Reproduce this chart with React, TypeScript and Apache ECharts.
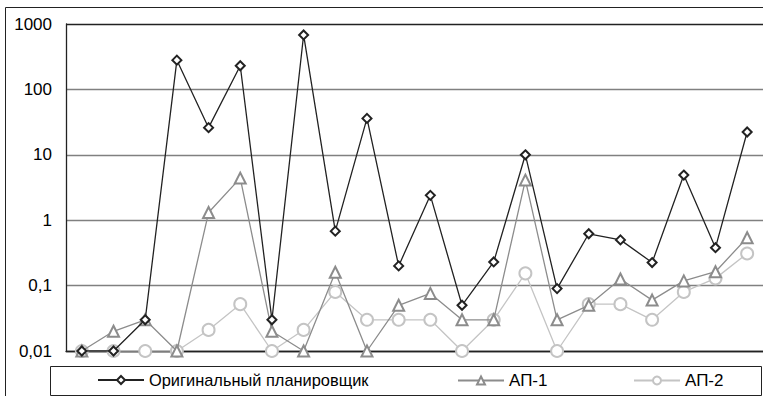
import React, { useEffect, useRef } from "react";
import * as echarts from "echarts";

const categories = ["1","2","3","4","5","6","7","8","9","10","11","12","13","14","15","16","17","18","19","20","21","22"];
const original = [0.01, 0.01, 0.03, 280, 26, 230, 0.03, 680, 0.68, 36, 0.2, 2.4, 0.05, 0.23, 10, 0.09, 0.62, 0.5, 0.225, 4.9, 0.38, 22.3];
const ap1 = [0.01, 0.02, 0.03, 0.01, 1.31, 4.4, 0.02, 0.01, 0.16, 0.01, 0.05, 0.076, 0.03, 0.03, 4.1, 0.03, 0.05, 0.126, 0.06, 0.118, 0.163, 0.54];
const ap2 = [0.01, 0.01, 0.01, 0.01, 0.021, 0.052, 0.01, 0.021, 0.08, 0.03, 0.03, 0.03, 0.01, 0.03, 0.154, 0.01, 0.052, 0.052, 0.03, 0.08, 0.129, 0.31];
const seriesNames = ["Оригинальный планировщик", "АП-1", "АП-2"];
const legendLefts = [97, 457, 633];

const FONT = "Liberation Sans, Arial, sans-serif";

export default function App() {
  const ref = useRef<HTMLDivElement>(null);
  useEffect(() => {
    if (!ref.current) return;
    const chart = echarts.init(ref.current, null, { renderer: "svg" });
    chart.setOption({
      animation: false,
      backgroundColor: "#ffffff",
      textStyle: { fontFamily: FONT },
      grid: { left: 66, top: 24, width: 702, height: 327, containLabel: false },
      xAxis: {
        type: "category",
        data: categories,
        boundaryGap: true,
        axisLine: { show: true, lineStyle: { color: "#222", width: 1.3 } },
        axisTick: { show: false },
        axisLabel: { show: false },
        splitLine: { show: false },
      },
      yAxis: {
        type: "log",
        logBase: 10,
        min: 0.01,
        max: 1000,
        axisLine: { show: true, lineStyle: { color: "#222", width: 1.3 } },
        axisTick: { show: false },
        axisLabel: {
          color: "#000",
          fontSize: 17,
          fontFamily: FONT,
          margin: 14,
          formatter: (v: number) => String(Number(v.toPrecision(3))).replace(".", ","),
        },
        splitLine: {
          show: true,
          lineStyle: { color: ["#222", "#808080", "#808080", "#808080", "#808080", "#222"], width: 1.3 },
        },
      },
      legend: seriesNames.map((name, i) => ({
        data: [name],
        left: legendLefts[i],
        top: 372,
        itemWidth: 46,
        itemHeight: 10,
        padding: 0,
        textStyle: { fontSize: i === 0 ? 16.4 : 17, fontFamily: FONT, color: "#000" },
      })),
      graphic: [
        { type: "rect", shape: { x: 5.5, y: 7.5, width: 800, height: 400 }, style: { fill: "none", stroke: "#222", lineWidth: 1 }, silent: true },
        { type: "rect", shape: { x: 50.5, y: 366.5, width: 711, height: 29 }, style: { fill: "none", stroke: "#222", lineWidth: 1 }, silent: true },
      ],
      series: [
        {
          name: seriesNames[2],
          type: "line",
          data: ap2,
          symbol: "emptyCircle",
          symbolSize: 12,
          color: "#c4c4c4",
          lineStyle: { width: 1.3, color: "#c4c4c4" },
          itemStyle: { color: "#c4c4c4", borderWidth: 1.3 },
          z: 2,
        },
        {
          name: seriesNames[1],
          type: "line",
          data: ap1,
          symbol: "emptyTriangle",
          symbolSize: 11,
          color: "#8c8c8c",
          lineStyle: { width: 1.3, color: "#8c8c8c" },
          itemStyle: { color: "#8c8c8c", borderWidth: 1.3 },
          z: 3,
        },
        {
          name: seriesNames[0],
          type: "line",
          data: original,
          symbol: "emptyDiamond",
          symbolSize: 9,
          color: "#222",
          lineStyle: { width: 1.3, color: "#222" },
          itemStyle: { color: "#222", borderWidth: 1.3 },
          z: 4,
        },
      ],
    });
    return () => chart.dispose();
  }, []);
  return (
    <div
      ref={ref}
      style={{ position: "fixed", left: 0, top: 0, width: 763, height: 396 }}
    />
  );
}
